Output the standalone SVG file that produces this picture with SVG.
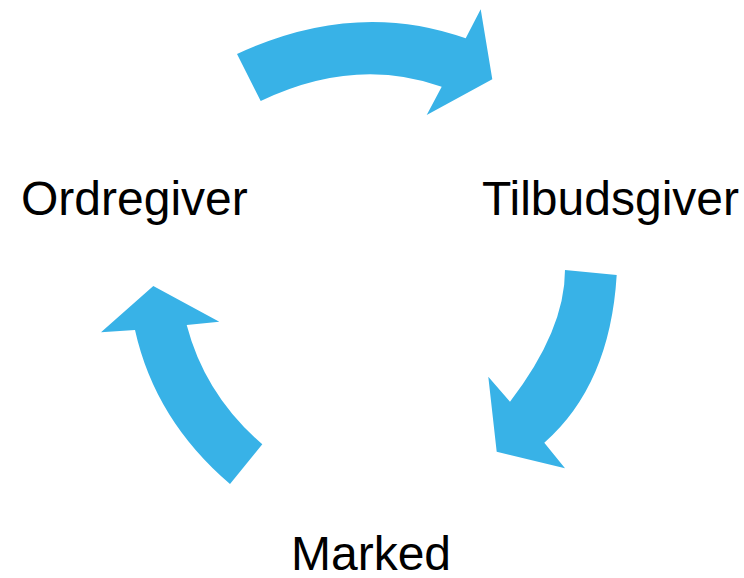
<svg xmlns="http://www.w3.org/2000/svg" width="744" height="578" viewBox="0 0 744 578">
<style>
.arrow{fill:#38B2E7;stroke:none}
.lbl{font-family:"Liberation Sans",Arial,sans-serif;font-size:48px;fill:#000}
</style>
<rect width="744" height="578" fill="#fff"/>
<g id="connectors">
<path id="arrow-top" class="arrow" d="M237,54 Q355,-1 465.7,38.3 L480.7,9.3 L492.3,79.3 L426.7,115 L441.7,86.7 Q355,56 260.7,101 Z"/>
<path id="arrow-right" class="arrow" d="M565,270 L616.7,275 Q610,385 544.3,442.7 L565,468.3 L496.7,451.7 L488.3,376.7 L510,401.7 Q565,330 565,270 Z"/>
<path id="arrow-left" class="arrow" d="M262.3,444.3 L230,484 Q155,420 135,330 L101,332.3 L153.3,286 L219.3,321.7 L186.7,325 Q205,395 262.3,444.3 Z"/>
</g>
<g id="node-ordregiver"><text class="lbl" x="21" y="215">Ordregiver</text></g>
<g id="node-tilbudsgiver"><text class="lbl" x="482" y="215">Tilbudsgiver</text></g>
<g id="node-marked"><text class="lbl" x="291" y="570">Marked</text></g>
</svg>
